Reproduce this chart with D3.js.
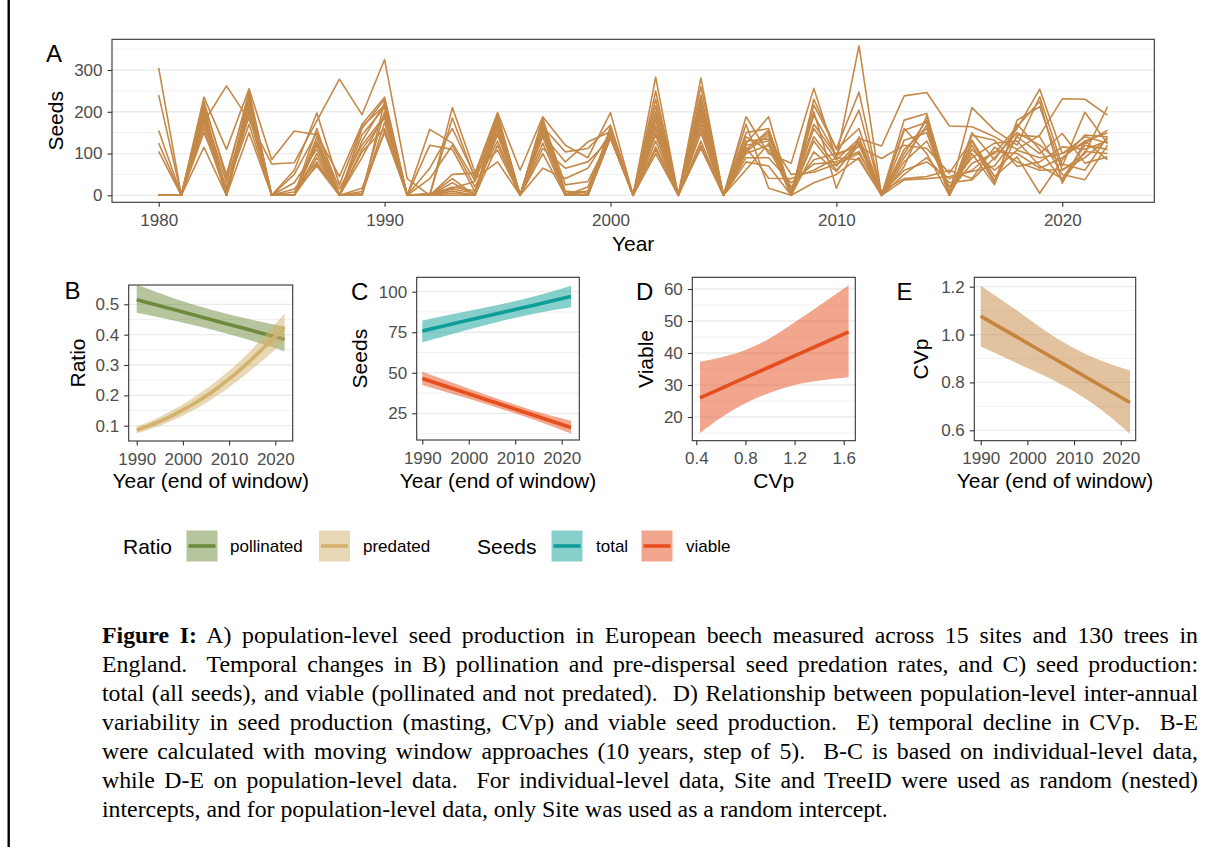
<!DOCTYPE html>
<html><head><meta charset="utf-8">
<script src="https://cdn.jsdelivr.net/npm/d3@7"></script>
<style>
body{margin:0;background:#fff;}
#wrap{position:relative;width:1212px;height:847px;overflow:hidden;background:#fff;}
svg{position:absolute;left:0;top:0;}
.cap{position:absolute;left:102px;width:1096px;font-family:"Liberation Serif","Times New Roman",serif;font-size:23.8px;line-height:29px;height:29px;text-align:justify;text-align-last:justify;color:#000;white-space:nowrap;}
.cap.last{text-align-last:left;}
</style></head>
<body><div id="wrap"></div>
<script>
// ---------------- DATA ----------------
const years = [1980,1981,1982,1983,1984,1985,1986,1987,1988,1989,1990,1991,1992,1993,1994,1995,1996,1997,1998,1999,2000,2001,2002,2003,2004,2005,2006,2007,2008,2009,2010,2011,2012,2013,2014,2015,2016,2017,2018,2019,2020,2021,2022];
const site01 = [305,0,175,262,180,75,78,178,278,193,325,40,0,50,53,198,60,188,120,90,198,0,283,0,281,0,188,100,77,256,88,358,0,180,196,0,150,85,160,254,100,124,156];
const site02 = [240,0,235,110,255,85,154,145,45,170,235,0,158,125,35,172,0,164,104,112,168,0,214,0,228,0,124,188,0,216,112,247,0,100,180,5,210,156,120,236,70,199,124];
const site03 = [155,0,215,50,240,0,60,197,25,165,215,0,120,110,9,145,0,145,80,128,152,0,168,0,180,0,108,156,9,192,96,204,0,90,168,0,100,25,180,212,60,100,212];
const site04 = [125,0,200,30,220,0,50,150,15,120,190,0,0,210,55,108,0,112,65,80,136,0,144,0,113,0,104,144,0,160,85,136,118,238,246,166,164,140,110,144,231,230,192];
const site05 = [105,0,185,15,200,0,30,110,0,104,160,0,0,185,40,80,0,65,40,65,150,0,116,0,150,0,61,124,0,104,57,128,0,37,40,45,57,70,140,100,148,77,92];
const site06 = [0,0,160,0,150,0,15,80,0,17,150,0,5,17,33,185,0,180,25,33,140,0,100,0,130,0,140,108,20,85,100,116,88,120,112,53,132,45,92,5,85,144,140];
const site07 = [0,0,115,0,210,0,8,70,0,9,200,0,0,5,0,160,0,150,0,9,145,0,200,0,200,0,115,41,40,60,90,85,0,160,100,0,144,132,69,80,116,110,130];
const site08 = [0,0,205,0,245,0,0,140,0,0,225,0,65,160,45,190,0,175,0,0,160,0,250,0,260,0,170,17,0,200,17,140,0,69,190,10,77,100,164,225,29,130,85];
const site09 = [0,0,190,0,230,0,0,120,0,0,175,0,40,120,20,130,0,125,0,0,138,0,150,0,170,0,100,120,0,130,60,120,0,132,150,0,120,30,144,140,50,37,120];
const site10 = [0,0,170,10,190,0,0,100,0,145,210,0,0,30,0,175,0,160,0,20,155,0,180,0,210,0,130,135,50,55,75,100,10,40,45,60,40,115,80,60,61,90,135];
const site11 = [0,0,225,40,250,0,0,160,0,160,230,0,0,15,5,195,0,185,10,5,165,0,230,0,240,0,150,160,0,230,110,160,0,156,175,0,110,60,108,90,100,140,125];
const site12 = [0,0,195,0,225,0,0,90,0,110,185,0,0,0,0,150,0,140,0,0,142,0,130,0,160,0,90,90,30,75,80,105,0,80,130,20,90,125,130,70,40,120,110];
const site13 = [0,0,150,20,170,0,0,75,0,5,155,0,0,10,0,120,0,100,0,0,137,0,110,0,120,0,80,70,0,30,50,90,0,50,90,30,37,90,150,120,75,60,140];
const site14 = [0,0,180,0,205,0,0,130,0,90,195,0,0,40,0,165,0,170,5,10,150,0,190,0,190,0,120,130,10,170,95,125,0,110,160,0,130,35,170,110,35,105,100];
const site15 = [0,0,210,5,235,0,0,125,0,130,220,0,0,20,10,180,0,155,0,0,145,0,160,0,220,0,110,150,0,140,70,130,5,60,80,40,60,105,100,65,90,130,150];
const sites = [site01,site02,site03,site04,site05,site06,site07,site08,site09,site10,site11,site12,site13,site14,site15];

// B: ratios
const pollYears = [1990,1998,2006,2014,2022];
const pollinatedFit = [0.515,0.4825,0.450,0.4175,0.385];
const pollinatedLo  = [0.472,0.447,0.418,0.384,0.345];
const pollinatedHi  = [0.565,0.520,0.483,0.452,0.426];
const predYears = [1990,1992,1994,1996,1998,2000,2002,2004,2006,2008,2010,2012,2014,2016,2018,2020,2022];
const predatedFit = [0.0855,0.0962,0.108,0.121,0.136,0.152,0.169,0.188,0.208,0.230,0.254,0.279,0.306,0.335,0.364,0.394,0.426];
const predatedLo  = [0.074,0.084,0.094,0.106,0.119,0.133,0.149,0.166,0.185,0.205,0.227,0.250,0.274,0.299,0.325,0.352,0.382];
const predatedHi  = [0.098,0.109,0.122,0.137,0.153,0.171,0.190,0.211,0.232,0.256,0.281,0.308,0.337,0.370,0.402,0.436,0.470];

// C: seeds
const seedYears = [1990,1998,2006,2014,2022];
const totalFit  = [75.8,81.1,86.4,91.7,97.0];
const totalLo   = [68.8,75.2,81.2,86.4,90.4];
const totalHi   = [82.3,87.0,91.6,97.0,103.7];
const viableFit = [46.5,38.9,31.35,23.8,16.2];
const viableLo  = [42.5,35.6,28.6,21.0,12.6];
const viableHi  = [50.7,42.3,34.2,26.6,20.4];

// D: viable vs CVp
const cvpGrid = [0.43,0.6,0.8,1.0,1.2,1.4,1.64];
const viableCvpFit = [26.0,28.9,32.3,35.7,39.1,42.5,46.6];
const viableCvpLo  = [15.0,19.8,24.3,27.6,30.0,31.4,32.4];
const viableCvpHi  = [37.3,38.6,40.9,44.6,49.6,54.8,61.2];

// E: CVp over time
const cvpYears = [1990,1998,2006,2014,2022];
const cvpFit = [1.077,0.987,0.897,0.806,0.716];
const cvpLo  = [0.950,0.878,0.805,0.712,0.586];
const cvpHi  = [1.204,1.097,0.988,0.905,0.850];

// ticks
const yearTicksA = [1980,1990,2000,2010,2020];
const seedTicksA = [0,100,200,300];
const seedMinorA = [50,150,250,350];
const yearTicks = [1990,2000,2010,2020];
const ratioTicks = [0.1,0.2,0.3,0.4,0.5];
const ratioMinor = [0.15,0.25,0.35,0.45,0.55];
const seedTicksC = [25,50,75,100];
const seedMinorC = [12.5,37.5,62.5,87.5];
const viableTicks = [20,30,40,50,60];
const viableMinor = [15,25,35,45,55];
const cvpTicksX = [0.4,0.8,1.2,1.6];
const cvpTicksY = [0.6,0.8,1.0,1.2];
const cvpMinorY = [0.7,0.9,1.1];

// colours
const colA = "#C48948";
const colPoll = "#6E8B3D";
const colPred = "#D2B26C";
const colTotal = "#0D9F97";
const colViable = "#E64E1E";
const colE = "#C5853F";

// ---------------- DRAW ----------------
const FONT = "'Liberation Sans', Arial, Helvetica, sans-serif";
const wrap = d3.select("#wrap");
const svg = wrap.append("svg").attr("width",1212).attr("height",847);
svg.append("rect").attr("width",1212).attr("height",847).attr("fill","#fff");
// left border bar
svg.append("line").attr("x1",8.7).attr("x2",8.7).attr("y1",0).attr("y2",847).attr("stroke","#000").attr("stroke-width",2.4);

function makePanel(cfg){
  const g = svg.append("g");
  const x = d3.scaleLinear().domain(cfg.xRef).range(cfg.xPix);
  const y = d3.scaleLinear().domain(cfg.yRef).range(cfg.yPix);
  const L=cfg.box[0], R=cfg.box[1], T=cfg.box[2], B=cfg.box[3];
  const cid = "clip"+cfg.tag;
  svg.append("clipPath").attr("id",cid).append("rect").attr("x",L).attr("y",T).attr("width",R-L).attr("height",B-T);
  g.append("rect").attr("x",L).attr("y",T).attr("width",R-L).attr("height",B-T).attr("fill","#fff");
  cfg.yMinor.forEach(v=>{
    g.append("line").attr("x1",L).attr("x2",R).attr("y1",y(v)).attr("y2",y(v)).attr("stroke","#EBEBEB").attr("stroke-width",0.7);
  });
  cfg.yTicks.forEach(v=>{
    g.append("line").attr("x1",L).attr("x2",R).attr("y1",y(v)).attr("y2",y(v)).attr("stroke","#EBEBEB").attr("stroke-width",1.3);
  });
  const content = g.append("g").attr("clip-path",`url(#${cid})`);
  cfg.draw(content,x,y);
  g.append("rect").attr("x",L).attr("y",T).attr("width",R-L).attr("height",B-T).attr("fill","none").attr("stroke","#333").attr("stroke-width",1.1);
  const ax = g.append("g").attr("transform",`translate(0,${B})`)
    .call(d3.axisBottom(x).tickValues(cfg.xTicks).tickSize(4.5).tickPadding(7).tickFormat(cfg.xFmt));
  const ay = g.append("g").attr("transform",`translate(${L},0)`)
    .call(d3.axisLeft(y).tickValues(cfg.yTicks).tickSize(4.5).tickPadding(5).tickFormat(cfg.yFmt));
  [ax,ay].forEach(a=>{
    a.select(".domain").remove();
    a.selectAll(".tick line").attr("stroke","#333").attr("stroke-width",1.1);
    a.selectAll(".tick text").attr("fill","#4D4D4D").style("font-family",FONT).style("font-size","17px");
  });
  // tag
  g.append("text").attr("x",cfg.tagPos[0]).attr("y",cfg.tagPos[1]).text(cfg.tag)
    .style("font-family",FONT).style("font-size","24px").attr("fill","#000");
  // x title
  g.append("text").attr("x",(L+R)/2).attr("y",cfg.xTitleY).attr("text-anchor","middle").text(cfg.xTitle)
    .style("font-family",FONT).style("font-size","21px").attr("fill","#000");
  // y title
  g.append("text").attr("transform",`translate(${cfg.yTitleX},${(T+B)/2}) rotate(-90)`).attr("text-anchor","middle").text(cfg.yTitle)
    .style("font-family",FONT).style("font-size","21px").attr("fill","#000");
}

function ribbon(g,x,y,xs,lo,hi,fit,col,curve){
  const pts = xs.map((v,i)=>({x:v,lo:lo[i],hi:hi[i],f:fit[i]}));
  g.append("path").datum(pts).attr("d",d3.area().x(d=>x(d.x)).y0(d=>y(d.lo)).y1(d=>y(d.hi)).curve(curve))
    .attr("fill",col).attr("fill-opacity",0.5);
  g.append("path").datum(pts).attr("d",d3.line().x(d=>x(d.x)).y(d=>y(d.f)).curve(curve))
    .attr("fill","none").attr("stroke",col).attr("stroke-width",3.6);
}

// Panel A
makePanel({
  tag:"A", box:[112,1154.3,39.3,202.3],
  xRef:[1980,2020], xPix:[158.7,1062.3], yRef:[0,300], yPix:[195.3,70],
  xTicks:yearTicksA, yTicks:seedTicksA, yMinor:seedMinorA,
  xFmt:d3.format("d"), yFmt:d3.format("d"),
  tagPos:[46,61.5], xTitle:"Year", xTitleY:250.5, yTitle:"Seeds", yTitleX:63,
  draw:(g,x,y)=>{
    const line = d3.line().x((d,i)=>x(years[i])).y(d=>y(d));
    sites.forEach(s=>{
      g.append("path").datum(s).attr("d",line).attr("fill","none").attr("stroke",colA)
        .attr("stroke-width",1.6).attr("stroke-linejoin","round");
    });
  }
});

// Panel B
makePanel({
  tag:"B", box:[128.7,292.7,285,441],
  xRef:[1990,2020], xPix:[136.7,275.3], yRef:[0.1,0.5], yPix:[425.7,304.3],
  xTicks:yearTicks, yTicks:ratioTicks, yMinor:ratioMinor,
  xFmt:d3.format("d"), yFmt:d3.format(".1f"),
  tagPos:[64.5,298.5], xTitle:"Year (end of window)", xTitleY:487.5, yTitle:"Ratio", yTitleX:85,
  draw:(g,x,y)=>{
    ribbon(g,x,y,pollYears,pollinatedLo,pollinatedHi,pollinatedFit,colPoll,d3.curveMonotoneX);
    ribbon(g,x,y,predYears,predatedLo,predatedHi,predatedFit,colPred,d3.curveMonotoneX);
  }
});

// Panel C
makePanel({
  tag:"C", box:[416.7,579.3,277.3,440],
  xRef:[1990,2020], xPix:[422.3,561.7], yRef:[25,100], yPix:[413.3,291.7],
  xTicks:yearTicks, yTicks:seedTicksC, yMinor:seedMinorC,
  xFmt:d3.format("d"), yFmt:d3.format("d"),
  tagPos:[351,300], xTitle:"Year (end of window)", xTitleY:487.5, yTitle:"Seeds", yTitleX:366.5,
  draw:(g,x,y)=>{
    ribbon(g,x,y,seedYears,totalLo,totalHi,totalFit,colTotal,d3.curveMonotoneX);
    ribbon(g,x,y,seedYears,viableLo,viableHi,viableFit,colViable,d3.curveMonotoneX);
  }
});

// Panel D
makePanel({
  tag:"D", box:[692.3,855.3,277.3,440.7],
  xRef:[0.4,1.6], xPix:[696.3,843.7], yRef:[20,60], yPix:[417,289],
  xTicks:cvpTicksX, yTicks:viableTicks, yMinor:viableMinor,
  xFmt:d3.format(".1f"), yFmt:d3.format("d"),
  tagPos:[636,300], xTitle:"CVp", xTitleY:487.5, yTitle:"Viable", yTitleX:653,
  draw:(g,x,y)=>{
    ribbon(g,x,y,cvpGrid,viableCvpLo,viableCvpHi,viableCvpFit,colViable,d3.curveMonotoneX);
  }
});

// Panel E
makePanel({
  tag:"E", box:[974.3,1135.7,277.3,440.7],
  xRef:[1990,2020], xPix:[980.7,1120.7], yRef:[0.6,1.2], yPix:[430.3,286.7],
  xTicks:yearTicks, yTicks:cvpTicksY, yMinor:cvpMinorY,
  xFmt:d3.format("d"), yFmt:d3.format(".1f"),
  tagPos:[896.5,299.5], xTitle:"Year (end of window)", xTitleY:487.5, yTitle:"CVp", yTitleX:928,
  draw:(g,x,y)=>{
    ribbon(g,x,y,cvpYears,cvpLo,cvpHi,cvpFit,colE,d3.curveMonotoneX);
  }
});

// Legend
const legendGroups = [
  {title:"Ratio", tx:123, items:[{label:"pollinated", col:colPoll, kx:186.5, lx:230},{label:"predated", col:colPred, kx:319, lx:363}]},
  {title:"Seeds", tx:477, items:[{label:"total", col:colTotal, kx:551.5, lx:596},{label:"viable", col:colViable, kx:641.5, lx:686}]}
];
const lg = svg.append("g");
const keyY = 530.5, keySize = 31;
legendGroups.forEach(grp=>{
  lg.append("text").attr("x",grp.tx).attr("y",553.5).text(grp.title).style("font-family",FONT).style("font-size","21px").attr("fill","#000");
  grp.items.forEach(it=>{
    lg.append("rect").attr("x",it.kx).attr("y",keyY).attr("width",keySize).attr("height",keySize).attr("fill",it.col).attr("fill-opacity",0.5);
    lg.append("line").attr("x1",it.kx+2).attr("x2",it.kx+keySize-2).attr("y1",keyY+keySize/2).attr("y2",keyY+keySize/2).attr("stroke",it.col).attr("stroke-width",3.6);
    lg.append("text").attr("x",it.lx).attr("y",552).text(it.label).style("font-family",FONT).style("font-size","17px").attr("fill","#000");
  });
});

// Caption
const captionLines = [
  "<b>Figure I:</b> A) population-level seed production in European beech measured across 15 sites and 130 trees in",
  "England.&nbsp; Temporal changes in B) pollination and pre-dispersal seed predation rates, and C) seed production:",
  "total (all seeds), and viable (pollinated and not predated).&nbsp; D) Relationship between population-level inter-annual",
  "variability in seed production (masting, CVp) and viable seed production.&nbsp; E) temporal decline in CVp.&nbsp; B-E",
  "were calculated with moving window approaches (10 years, step of 5).&nbsp; B-C is based on individual-level data,",
  "while D-E on population-level data.&nbsp; For individual-level data, Site and TreeID were used as random (nested)",
  "intercepts, and for population-level data, only Site was used as a random intercept."
];
const capTop = [621,650,679,708,737,766,795];
captionLines.forEach((t,i)=>{
  wrap.append("div").attr("class","cap"+(i===captionLines.length-1?" last":"")).style("top",capTop[i]+"px").html(t);
});
</script>
</body></html>
